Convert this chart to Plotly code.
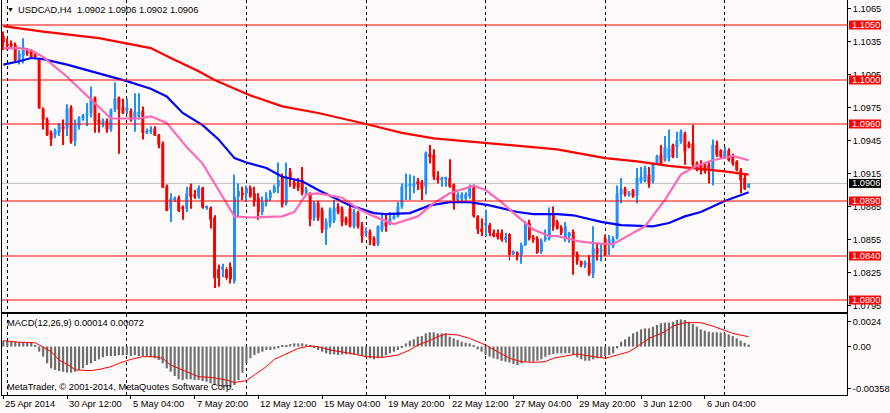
import plotly.graph_objects as go

# ---------------- data (USDCAD H4) ----------------
opens = [
    1.1040, 1.1033, 1.1033, 1.1032, 1.1018, 1.1022, 1.1027, 1.1026, 1.1023, 1.1018,
    1.0974, 1.0964, 1.0952, 1.0950, 1.0952, 1.0958, 1.0956, 1.0975, 1.0945, 1.0958,
    1.0965, 1.0968, 1.0970, 1.0984, 1.0964, 1.0961, 1.0963, 1.0955, 1.0973, 1.0984,
    1.0975, 1.0972, 1.0972, 1.0964, 1.0967, 1.0972, 1.0952, 1.0953, 1.0956, 1.0950,
    1.0942, 1.0903, 1.0883, 1.0891, 1.0893, 1.0884, 1.0883, 1.0903, 1.0896, 1.0894,
    1.0902, 1.0884, 1.0884, 1.0875, 1.0828, 1.0828, 1.0828, 1.0830, 1.0817, 1.0894,
    1.0897, 1.0897, 1.0902, 1.0897, 1.0893, 1.0880, 1.0889, 1.0893, 1.0898, 1.0903,
    1.0911, 1.0888, 1.0917, 1.0907, 1.0907, 1.0909, 1.0897, 1.0896, 1.0875, 1.0888,
    1.0882, 1.0864, 1.0870, 1.0872, 1.0885, 1.0883, 1.0874, 1.0883, 1.0867, 1.0879,
    1.0867, 1.0861, 1.0862, 1.0856, 1.0851, 1.0864, 1.0871, 1.0869, 1.0874, 1.0876,
    1.0885, 1.0903, 1.0904, 1.0903, 1.0908, 1.0907, 1.0903, 1.0933, 1.0932, 1.0912,
    1.0909, 1.0910, 1.0911, 1.0905, 1.0891, 1.0892, 1.0892, 1.0894, 1.0902, 1.0876,
    1.0865, 1.0868, 1.0868, 1.0861, 1.0861, 1.0861, 1.0855, 1.0860, 1.0842, 1.0843,
    1.0841, 1.0850, 1.0870, 1.0857, 1.0856, 1.0844, 1.0855, 1.0856, 1.0879, 1.0871,
    1.0866, 1.0856, 1.0858, 1.0862, 1.0842, 1.0835, 1.0832, 1.0834, 1.0824, 1.0847,
    1.0844, 1.0856, 1.0850, 1.0849, 1.0856, 1.0896, 1.0901, 1.0896, 1.0900, 1.0895,
    1.0908, 1.0908, 1.0914, 1.0908, 1.0924, 1.0932, 1.0927, 1.0929, 1.0941, 1.0939,
    1.0944, 1.0951, 1.0942, 1.0942, 1.0924, 1.0923, 1.0923, 1.0923, 1.0918, 1.0941,
    1.0936, 1.0930, 1.0936, 1.0930, 1.0926, 1.0918, 1.0911, 1.0902,
]
highs = [
    1.1044, 1.1038, 1.1036, 1.1034, 1.1027, 1.1038, 1.1029, 1.1028, 1.1024, 1.1019,
    1.0975, 1.0966, 1.0954, 1.0956, 1.0961, 1.0964, 1.0978, 1.0977, 1.0964, 1.0967,
    1.0969, 1.0979, 1.0994, 1.0985, 1.0970, 1.0965, 1.0965, 1.0974, 1.0998, 1.0985,
    1.0983, 1.0983, 1.0974, 1.0988, 1.0988, 1.0976, 1.0956, 1.0958, 1.0958, 1.0951,
    1.0944, 1.0905, 1.0897, 1.0894, 1.0895, 1.0886, 1.0903, 1.0906, 1.0900, 1.0904,
    1.0903, 1.0886, 1.0885, 1.0877, 1.0832, 1.0833, 1.0830, 1.0834, 1.0914, 1.0906,
    1.0903, 1.0904, 1.0904, 1.0903, 1.0897, 1.0894, 1.0898, 1.0900, 1.0905, 1.0925,
    1.0915, 1.0925, 1.0920, 1.0910, 1.0911, 1.0921, 1.0903, 1.0898, 1.0890, 1.0890,
    1.0884, 1.0874, 1.0884, 1.0891, 1.0888, 1.0885, 1.0876, 1.0887, 1.0883, 1.0881,
    1.0871, 1.0866, 1.0864, 1.0858, 1.0868, 1.0879, 1.0879, 1.0880, 1.0878, 1.0889,
    1.0906, 1.0915, 1.0914, 1.0913, 1.0911, 1.0909, 1.0935, 1.0941, 1.0937, 1.0917,
    1.0912, 1.0912, 1.0928, 1.0906, 1.0898, 1.0898, 1.0898, 1.0905, 1.0905, 1.0877,
    1.0874, 1.0882, 1.0870, 1.0864, 1.0864, 1.0864, 1.0861, 1.0861, 1.0845, 1.0844,
    1.0852, 1.0872, 1.0873, 1.0859, 1.0858, 1.0856, 1.0864, 1.0884, 1.0885, 1.0873,
    1.0868, 1.0871, 1.0862, 1.0864, 1.0844, 1.0836, 1.0836, 1.0841, 1.0867, 1.0852,
    1.0851, 1.0859, 1.0859, 1.0858, 1.0904, 1.0911, 1.0903, 1.0899, 1.0901, 1.0920,
    1.0921, 1.0922, 1.0921, 1.0925, 1.0932, 1.0941, 1.0949, 1.0955, 1.0942, 1.0953,
    1.0955, 1.0953, 1.0944, 1.0959, 1.0926, 1.0927, 1.0924, 1.0925, 1.0946, 1.0945,
    1.0937, 1.0939, 1.0938, 1.0933, 1.0927, 1.0920, 1.0914, 1.0906,
]
lows = [
    1.1027, 1.1027, 1.1029, 1.1016, 1.1014, 1.1015, 1.1022, 1.1020, 1.1020, 1.0974,
    1.0955, 1.0949, 1.0940, 1.0947, 1.0949, 1.0941, 1.0949, 1.0942, 1.0940, 1.0955,
    1.0963, 1.0958, 1.0966, 1.0952, 1.0952, 1.0957, 1.0952, 1.0953, 1.0971, 1.0933,
    1.0969, 1.0969, 1.0962, 1.0953, 1.0964, 1.0946, 1.0951, 1.0951, 1.0949, 1.0938,
    1.0902, 1.0881, 1.0871, 1.0889, 1.0880, 1.0873, 1.0880, 1.0883, 1.0892, 1.0892,
    1.0883, 1.0882, 1.0865, 1.0811, 1.0812, 1.0821, 1.0818, 1.0815, 1.0815, 1.0876,
    1.0891, 1.0889, 1.0893, 1.0885, 1.0873, 1.0877, 1.0885, 1.0890, 1.0897, 1.0897,
    1.0884, 1.0886, 1.0903, 1.0901, 1.0899, 1.0895, 1.0895, 1.0867, 1.0872, 1.0872,
    1.0861, 1.0850, 1.0866, 1.0870, 1.0878, 1.0867, 1.0868, 1.0866, 1.0865, 1.0865,
    1.0852, 1.0858, 1.0850, 1.0849, 1.0849, 1.0862, 1.0862, 1.0868, 1.0873, 1.0875,
    1.0883, 1.0891, 1.0891, 1.0897, 1.0900, 1.0891, 1.0896, 1.0924, 1.0909, 1.0906,
    1.0903, 1.0903, 1.0902, 1.0882, 1.0888, 1.0889, 1.0889, 1.0892, 1.0875, 1.0860,
    1.0858, 1.0858, 1.0858, 1.0857, 1.0855, 1.0853, 1.0852, 1.0836, 1.0841, 1.0836,
    1.0833, 1.0849, 1.0854, 1.0852, 1.0842, 1.0842, 1.0853, 1.0854, 1.0863, 1.0864,
    1.0859, 1.0853, 1.0852, 1.0823, 1.0832, 1.0830, 1.0829, 1.0822, 1.0820, 1.0836,
    1.0835, 1.0840, 1.0841, 1.0847, 1.0855, 1.0888, 1.0894, 1.0894, 1.0893, 1.0888,
    1.0906, 1.0907, 1.0902, 1.0906, 1.0923, 1.0923, 1.0926, 1.0926, 1.0929, 1.0929,
    1.0942, 1.0923, 1.0938, 1.0921, 1.0917, 1.0914, 1.0915, 1.0906, 1.0904, 1.0930,
    1.0929, 1.0929, 1.0926, 1.0922, 1.0917, 1.0897, 1.0900, 1.0902,
]
closes = [
    1.1034, 1.1031, 1.1031, 1.1018, 1.1024, 1.1030, 1.1024, 1.1021, 1.1021, 1.0974,
    1.0964, 1.0950, 1.0946, 1.0954, 1.0959, 1.0955, 1.0974, 1.0944, 1.0959, 1.0966,
    1.0968, 1.0970, 1.0983, 1.0962, 1.0960, 1.0963, 1.0955, 1.0973, 1.0983, 1.0973,
    1.0970, 1.0975, 1.0964, 1.0971, 1.0971, 1.0952, 1.0953, 1.0955, 1.0950, 1.0941,
    1.0902, 1.0881, 1.0892, 1.0892, 1.0881, 1.0883, 1.0897, 1.0894, 1.0894, 1.0902,
    1.0884, 1.0885, 1.0873, 1.0820, 1.0820, 1.0830, 1.0820, 1.0819, 1.0894, 1.0899,
    1.0896, 1.0902, 1.0894, 1.0890, 1.0880, 1.0889, 1.0893, 1.0898, 1.0903, 1.0909,
    1.0887, 1.0911, 1.0910, 1.0903, 1.0902, 1.0897, 1.0901, 1.0873, 1.0888, 1.0875,
    1.0864, 1.0871, 1.0882, 1.0884, 1.0880, 1.0871, 1.0870, 1.0867, 1.0880, 1.0867,
    1.0858, 1.0862, 1.0855, 1.0850, 1.0867, 1.0871, 1.0867, 1.0874, 1.0876, 1.0885,
    1.0903, 1.0905, 1.0905, 1.0906, 1.0905, 1.0901, 1.0934, 1.0930, 1.0912, 1.0909,
    1.0911, 1.0911, 1.0903, 1.0891, 1.0896, 1.0896, 1.0896, 1.0902, 1.0876, 1.0864,
    1.0862, 1.0870, 1.0861, 1.0858, 1.0857, 1.0855, 1.0857, 1.0841, 1.0844, 1.0841,
    1.0850, 1.0869, 1.0856, 1.0855, 1.0843, 1.0854, 1.0857, 1.0879, 1.0867, 1.0865,
    1.0861, 1.0867, 1.0861, 1.0841, 1.0835, 1.0832, 1.0834, 1.0824, 1.0847, 1.0842,
    1.0846, 1.0841, 1.0855, 1.0856, 1.0897, 1.0901, 1.0896, 1.0897, 1.0894, 1.0911,
    1.0912, 1.0920, 1.0906, 1.0924, 1.0931, 1.0924, 1.0939, 1.0938, 1.0930, 1.0945,
    1.0953, 1.0935, 1.0939, 1.0923, 1.0920, 1.0918, 1.0917, 1.0918, 1.0941, 1.0932,
    1.0930, 1.0936, 1.0927, 1.0924, 1.0918, 1.0909, 1.0901, 1.0906,
]

# moving averages (read at knots along the lines)
red_ma_bars = [0, 10, 24, 31, 37, 42, 49, 53, 62, 70, 79, 91, 100, 108, 117, 129, 139, 151, 159, 167, 175, 181, 187]
red_ma = [1.1049, 1.1044, 1.1038, 1.1033, 1.1029, 1.1020, 1.1008, 1.1000, 1.0986, 1.0976, 1.0970, 1.0960,
          1.0952, 1.0947, 1.0944, 1.0940, 1.0937, 1.0929, 1.0926, 1.0922, 1.0919, 1.0917, 1.0914]

blue_ma_bars = [0, 4, 7, 10, 16, 24, 31, 37, 41, 45, 50, 54, 58, 61, 66, 70, 75, 79, 83, 87,
                93, 96, 102, 107, 112, 117, 122, 129, 133, 139, 143, 150, 155, 163, 167, 171, 175, 181, 187]
blue_ma = [1.1014, 1.1017, 1.1020, 1.1019, 1.1014, 1.1006, 1.0999, 1.0992, 1.0985, 1.0970,
           1.0959, 1.0946, 1.0929, 1.0925, 1.0920, 1.0912, 1.0908, 1.0900, 1.0893, 1.0886,
           1.0879, 1.0878, 1.0879, 1.0886, 1.0889, 1.0889, 1.0886, 1.0880, 1.0878, 1.0878,
           1.0877, 1.0871, 1.0868, 1.0867, 1.0870, 1.0876, 1.0880, 1.0890, 1.0898]

pink_ma_bars = [0, 4, 7, 10, 16, 22, 27, 34, 37, 41, 46, 50, 54, 58, 62, 70, 73, 76, 79, 85,
                89, 93, 98, 104, 108, 112, 118, 121, 125, 129, 133, 137, 139, 145, 150, 153, 157, 161, 166, 170,
                174, 178, 183, 187]
pink_ma = [1.1029, 1.1029, 1.1027, 1.1021, 1.1003, 1.0982, 1.0965, 1.0965, 1.0967, 1.0961,
           1.0939, 1.0924, 1.0900, 1.0876, 1.0875, 1.0876, 1.0880, 1.0896, 1.0897, 1.0893,
           1.0883, 1.0876, 1.0869, 1.0876, 1.0888, 1.0897, 1.0904, 1.0900, 1.0889, 1.0876,
           1.0864, 1.0858, 1.0858, 1.0853, 1.0851, 1.0851, 1.0859, 1.0867, 1.0891, 1.0914,
           1.0922, 1.0927, 1.0931, 1.0927]

# MACD(12,26,9): main (histogram) per bar and signal line at knots
macd_main = [
    0.00043, 0.00041, 0.00038, 0.00036, 0.00031, 0.00031, 0.00028, 0.00028, 0.00010, -0.00038,
    -0.00075, -0.00124, -0.00161, -0.00173, -0.00181, -0.00186, -0.00193, -0.00193, -0.00186, -0.00173,
    -0.00161, -0.00137, -0.00124, -0.00107, -0.00095, -0.00080, -0.00070, -0.00070, -0.00070, -0.00063,
    -0.00063, -0.00063, -0.00070, -0.00063, -0.00070, -0.00070, -0.00075, -0.00080, -0.00087, -0.00100,
    -0.00124, -0.00161, -0.00186, -0.00218, -0.00242, -0.00247, -0.00242, -0.00242, -0.00247, -0.00247,
    -0.00255, -0.00260, -0.00272, -0.00284, -0.00292, -0.00296, -0.00301, -0.00301, -0.00284, -0.00247,
    -0.00193, -0.00124, -0.00087, -0.00063, -0.00050, -0.00038, -0.00026, -0.00026, -0.00021, -0.00014,
    0.00004, 0.00011, 0.00018, 0.00023, 0.00023, 0.00023, 0.00016, 0.00004, -0.00006, -0.00026,
    -0.00038, -0.00050, -0.00058, -0.00058, -0.00063, -0.00058, -0.00058, -0.00058, -0.00058, -0.00058,
    -0.00070, -0.00080, -0.00087, -0.00095, -0.00087, -0.00080, -0.00063, -0.00050, -0.00038, -0.00026,
    -0.00009, 0.00023, 0.00043, 0.00053, 0.00073, 0.00077, 0.00097, 0.00105, 0.00105, 0.00097,
    0.00097, 0.00097, 0.00073, 0.00060, 0.00048, 0.00036, 0.00028, 0.00023, 0.00011, -0.00021,
    -0.00038, -0.00063, -0.00075, -0.00087, -0.00095, -0.00105, -0.00112, -0.00119, -0.00129, -0.00137,
    -0.00124, -0.00112, -0.00112, -0.00112, -0.00105, -0.00095, -0.00075, -0.00063, -0.00055, -0.00050,
    -0.00050, -0.00050, -0.00050, -0.00055, -0.00080, -0.00095, -0.00105, -0.00105, -0.00095, -0.00087,
    -0.00080, -0.00070, -0.00063, -0.00050, -0.00014, 0.00036, 0.00053, 0.00073, 0.00097, 0.00109,
    0.00127, 0.00134, 0.00134, 0.00146, 0.00159, 0.00171, 0.00176, 0.00176, 0.00183, 0.00196,
    0.00200, 0.00196, 0.00183, 0.00166, 0.00146, 0.00127, 0.00117, 0.00109, 0.00105, 0.00105,
    0.00102, 0.00097, 0.00090, 0.00077, 0.00060, 0.00043, 0.00028, 0.00014,
]
signal_bars = [0, 4, 8, 9, 12, 14, 17, 18, 20, 22, 24, 27, 29, 32, 35, 38, 40, 42, 46, 49,
               52, 56, 58, 61, 63, 66, 68, 71, 74, 77, 79, 82, 87, 91, 95, 99, 102, 104, 107, 109,
               111, 114, 117, 121, 124, 127, 130, 133, 136, 138, 141, 144, 147, 151, 154, 157, 159, 162, 166, 168,
               171, 175, 178, 181, 183, 187]
signal_vals = [0.00043, 0.00031, 0.00028, 0.00011, -0.00038, -0.00100, -0.00149, -0.00173, -0.00178, -0.00178,
               -0.00169, -0.00149, -0.00124, -0.00095, -0.00075, -0.00075, -0.00087, -0.00137, -0.00186, -0.00223,
               -0.00228, -0.00247, -0.00266, -0.00252, -0.00210, -0.00149, -0.00095, -0.00055, -0.00014, 0.00004,
               -0.00001, -0.00026, -0.00050, -0.00075, -0.00080, -0.00063, -0.00026, 0.00011, 0.00043, 0.00073,
               0.00092, 0.00085, 0.00060, 0.00011, -0.00038, -0.00087, -0.00112, -0.00117, -0.00112, -0.00087,
               -0.00070, -0.00055, -0.00070, -0.00087, -0.00063, -0.00038, -0.00001, 0.00060, 0.00109, 0.00151,
               0.00176, 0.00176, 0.00151, 0.00122, 0.00097, 0.00072]

# axis / annotation data
time_label_bars = [0, 16, 32, 48, 64, 80, 96, 112, 128, 144, 160, 176]
time_labels = ["25 Apr 2014", "30 Apr 12:00", "5 May 04:00", "7 May 20:00", "12 May 12:00", "15 May 04:00",
               "19 May 20:00", "22 May 12:00", "27 May 04:00", "29 May 20:00", "3 Jun 12:00", "6 Jun 04:00"]
week_start_bars = [1, 31, 61, 91, 121, 151, 181]
levels = [1.1050, 1.1000, 1.0960, 1.0890, 1.0840, 1.0800]
price_ticks = [1.1065, 1.1035, 1.1005, 1.0975, 1.0945, 1.0915, 1.0885, 1.0855, 1.0825, 1.0795]
macd_max, macd_min = 0.0024, -0.00358
macd_tick_text = ["0.0024", "0.00", "-0.00358"]

n = len(closes)
assert len(opens) == len(highs) == len(lows) == n == len(macd_main)
assert len(red_ma_bars) == len(red_ma) and len(blue_ma_bars) == len(blue_ma)
assert len(pink_ma_bars) == len(pink_ma) and len(signal_bars) == len(signal_vals)
bars = list(range(n))

# ---------------- style ----------------
BG = "#FFFAFA"
BULL = "#1E90FF"
BEAR = "#FF0000"
FONT = "Liberation Sans, Arial, sans-serif"
FS = 9.3

colors = [BULL if c >= o else BEAR for o, c in zip(opens, closes)]
body_base = [min(o, c) for o, c in zip(opens, closes)]
body_h = [max(abs(c - o), 0.000012) for o, c in zip(opens, closes)]
wick_h = [h - l for h, l in zip(highs, lows)]

fig = go.Figure()
fig.add_trace(go.Bar(x=bars, base=lows, y=wick_h, width=0.25, marker=dict(color=colors, line=dict(width=0)),
                     xaxis="x", yaxis="y", opacity=1, hoverinfo="skip"))
fig.add_trace(go.Bar(x=bars, base=body_base, y=body_h, width=0.75, marker=dict(color=colors, line=dict(width=0)),
                     xaxis="x", yaxis="y", opacity=1, hoverinfo="skip"))
fig.add_trace(go.Scatter(x=red_ma_bars, y=red_ma, mode="lines", line=dict(color="#FF0000", width=2.2),
                         xaxis="x", yaxis="y"))
fig.add_trace(go.Scatter(x=blue_ma_bars, y=blue_ma, mode="lines", line=dict(color="#0000FF", width=2.2),
                         xaxis="x", yaxis="y"))
fig.add_trace(go.Scatter(x=pink_ma_bars, y=pink_ma, mode="lines", line=dict(color="#FF69B4", width=2.2),
                         xaxis="x", yaxis="y"))

fig.add_trace(go.Bar(x=bars, y=macd_main, width=0.55, marker=dict(color="#6E6E6E", line=dict(width=0)),
                     xaxis="x2", yaxis="y2", opacity=1))
fig.add_trace(go.Scatter(x=signal_bars, y=signal_vals, mode="lines", line=dict(color="#FF0000", width=1),
                         xaxis="x2", yaxis="y2"))

# geometry: price pane 0..312 px, MACD pane 314..395 px, bars 4 px apart
H_PLOT = 395
x_range = [-0.325, 211.675]
price_range = [1.078909, 1.107273]
macd_span = macd_max - macd_min
macd_tickvals = [macd_max - 7.5 / 81 * macd_span, 0.0, macd_min + 6.3 / 81 * macd_span]

minor_grid = dict(tickmode="array", tickvals=week_start_bars, showgrid=True, gridcolor="black",
                  griddash="3px,3px", gridwidth=1, ticks="")

fig.update_layout(
    width=890, height=413,
    margin=dict(l=2, r=40, t=0, b=18),
    paper_bgcolor=BG, plot_bgcolor=BG,
    showlegend=False, barmode="overlay",
    font=dict(family=FONT, size=FS, color="black"),
    xaxis=dict(domain=[0, 1], anchor="y", range=x_range, showline=True, linecolor="black", linewidth=1,
               ticks="", showticklabels=False, showgrid=False, zeroline=False, minor=minor_grid),
    yaxis=dict(domain=[(H_PLOT - 312) / H_PLOT, 1], anchor="x", side="right", range=price_range,
               tickmode="array", tickvals=price_ticks, tickformat=".4f", ticks="outside", ticklen=3,
               tickcolor="black", showline=True, linecolor="black", mirror=True, showgrid=False,
               zeroline=False, tickfont=dict(family=FONT, size=FS, color="black")),
    xaxis2=dict(domain=[0, 1], anchor="y2", range=x_range, showline=True, mirror=True, linecolor="black",
                ticks="outside", ticklen=3, tickcolor="black", tickmode="array", tickvals=time_label_bars,
                showticklabels=False, showgrid=False, zeroline=False, minor=minor_grid),
    yaxis2=dict(domain=[0, (H_PLOT - 314) / H_PLOT], anchor="x2", side="right", range=[macd_min, macd_max],
                tickmode="array", tickvals=macd_tickvals, ticktext=macd_tick_text, ticks="outside", ticklen=3,
                tickcolor="black", showline=True, mirror=True, linecolor="black", showgrid=False,
                zeroline=False, tickfont=dict(family=FONT, size=FS, color="black")),
)

shapes = []
annotations = []
# bid line
shapes.append(dict(type="line", xref="x domain", x0=0, x1=1, yref="y", y0=closes[-1], y1=closes[-1],
                   line=dict(color="#C0C0C0", width=1), layer="below"))
# horizontal levels
for lv in levels:
    shapes.append(dict(type="line", xref="x domain", x0=0, x1=1, yref="y", y0=lv, y1=lv,
                       line=dict(color="#FF0000", width=1), layer="above"))
# right-side price tags
for lv, bgc in [(lv, "#FF0000") for lv in levels] + [(closes[-1], "#000000")]:
    shapes.append(dict(type="rect", xref="paper", xsizemode="pixel", xanchor=1, x0=2, x1=34,
                       yref="y", ysizemode="pixel", yanchor=lv, y0=-4.5, y1=4.5,
                       fillcolor=bgc, line=dict(width=0), layer="above"))
    annotations.append(dict(xref="paper", x=1, xanchor="left", xshift=3, yref="y", y=lv, yanchor="middle",
                            text=f"{lv:.4f}", showarrow=False, font=dict(family=FONT, size=FS, color="white")))

# title
annotations.append(dict(xref="paper", x=0, xanchor="left", xshift=3, yref="paper", y=1, yanchor="top", yshift=-4,
                        text="▼", showarrow=False, font=dict(family=FONT, size=7, color="black")))
title_txt = (f"USDCAD,H4\u00a0\u00a0{opens[-1]:.4f} {highs[-1]:.4f} {lows[-1]:.4f} {closes[-1]:.4f}")
annotations.append(dict(xref="paper", x=0, xanchor="left", xshift=14, yref="paper", y=1, yanchor="top", yshift=-3,
                        text=title_txt, showarrow=False, font=dict(family=FONT, size=FS, color="black")))
# MACD caption
annotations.append(dict(xref="paper", x=0, xanchor="left", xshift=3, yref="y2 domain", y=1, yanchor="top",
                        yshift=-2, text=f"MACD(12,26,9) {macd_main[-1]:.5f} {signal_vals[-1]:.5f}",
                        showarrow=False, font=dict(family=FONT, size=FS, color="black")))
annotations.append(dict(xref="paper", x=0, xanchor="left", xshift=3, yref="y2 domain", y=0, yanchor="bottom",
                        yshift=1, text="MetaTrader, © 2001-2014, MetaQuotes Software Corp.",
                        showarrow=False, font=dict(family=FONT, size=FS, color="black")))
# time labels
for b, t in zip(time_label_bars, time_labels):
    annotations.append(dict(xref="x2", x=b, xanchor="left", xshift=0, yref="paper", y=0, yanchor="top",
                            yshift=-2, text=t, showarrow=False, font=dict(family=FONT, size=FS, color="black")))

fig.update_layout(shapes=shapes, annotations=annotations)
fig.write_html("out.html", config={"displayModeBar": False},
               post_script="document.body.style.margin='0';document.body.style.background='%s';" % BG)
